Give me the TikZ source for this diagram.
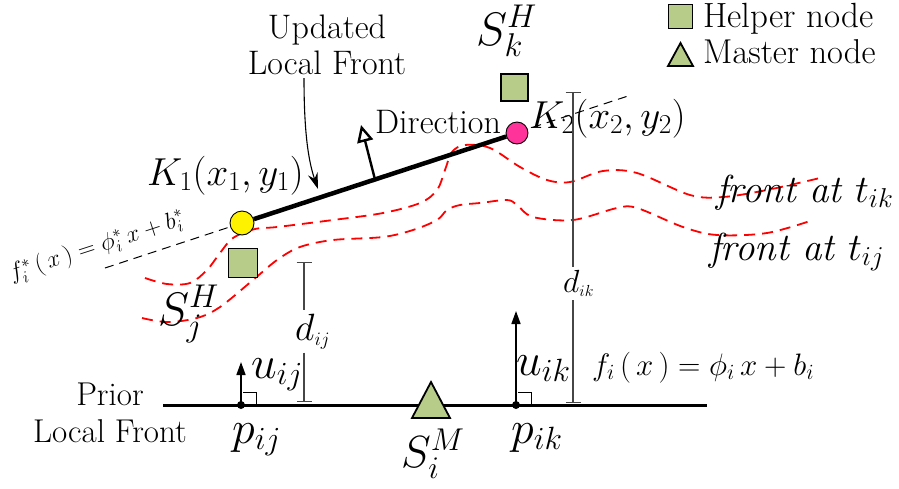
\RequirePackage{fix-cm}
\documentclass[tikz,border=0pt]{standalone}
\usepackage{fontspec}
\usetikzlibrary{arrows.meta,calc}
\definecolor{helpgreen}{RGB}{183,204,137}
\definecolor{kpink}{RGB}{255,51,153}
\definecolor{dgray}{RGB}{70,70,70}
\newcommand{\myfs}[1]{\fontsize{#1}{#1}\selectfont}
\begin{document}
\begin{tikzpicture}[x=1pt,y=-1pt,
  helper/.style={draw=black,line width=1.8pt,fill=helpgreen,minimum size=#1,inner sep=0pt},
  master/.style={draw=black,line width=1.8pt,fill=helpgreen,line join=miter},
  frontcurve/.style={red,line width=1.8pt,dash pattern=on 11pt off 7pt},
  lbl/.style={inner sep=0pt,anchor=base west},
  dimline/.style={dgray,line width=1.2pt},
  uarrow/.style={line width=1.6pt,-{Triangle[length=13pt,width=9pt]}},
  rangle/.style={line width=0.9pt},
  kpoint/.style={circle,draw=black,line width=0.9pt,inner sep=0pt,minimum size=#1},
]
\useasboundingbox (0,0) rectangle (899,488);

% legend
\node[helper=24pt] (lhelp) at (680.5,16.5) {};
\node[lbl] (lhelpt) at (703,27) {\myfs{35}Helper node};
\filldraw[master] (680.5,43) -- (693,66) -- (668,66) -- cycle;
\coordinate (lmast) at (680.5,55);
\node[lbl] (lmastt) at (703,63) {\myfs{34.5}Master node};

% fronts
\draw[frontcurve] plot[smooth,tension=0.55] coordinates {(145,278) (167,284) (190,283) (207,270) (220,253) (233,238) (255,229) (277,227) (333,220) (383,213) (420,203) (437,190) (445,170) (452,152) (465,145) (490,148) (520,167) (547,180) (570,182) (603,171) (637,173) (690,195) (723,197) (767,190) (820,178)};
\draw[frontcurve] plot[smooth,tension=0.55] coordinates {(142,318) (167,322) (197,318) (220,307) (253,280) (277,260) (300,247) (333,240) (383,237) (413,230) (437,220) (447,210) (460,205) (480,203) (507,200) (517,205) (533,217) (573,220) (617,208) (637,208) (683,227) (717,235) (767,233) (813,220)};
\node[lbl] (ftik) at (716,202) {\myfs{39}\itshape front at $t_{ik}$};
\node[lbl] (ftij) at (709,260) {\myfs{39}\itshape front at $t_{ij}$};

% updated local front line
\coordinate (fsL) at (105,268);
\coordinate (fsR) at (628,96);
\draw[line width=1pt,dash pattern=on 9pt off 6pt] (fsL) -- (fsR);
\node[kpoint=24pt,fill=yellow] (K1) at (242,223) {};
\node[kpoint=22pt,fill=kpink] (K2) at (517,133) {};
\draw[line width=4.5pt] (K1) -- (K2);
\node[rotate=18,inner sep=0pt] (fstar) at (97,247) {\myfs{24}$f_i^{*}\,(\,x\,)=\phi_i^{*}\,x+b_i^{*}$};

% direction
\coordinate (dirbase) at (375,179.5);
\coordinate (dirtip) at (361,125);
\draw[line width=2.4pt,-{Triangle[open,length=17pt,width=16pt]}] (dirbase) -- (dirtip);
\node[lbl] (dirt) at (375,133) {\myfs{34}Direction};

% labels of K
\node[lbl] (K1t) at (147,185) {\myfs{39}$K_1(x_1,y_1)$};
\node[lbl] (K2t) at (529,128) {\myfs{39}$K_2(x_2,y_2)$};

% Updated local front
\node[align=center,inner sep=0pt,font=\fontsize{34}{36}\selectfont] (ulf) at (327,44.5) {Updated\\Local Front};
\coordinate (ulfstart) at (304,78);
\coordinate (ulftip) at (318,189);
\draw[line width=1.1pt,-{Stealth[length=16pt,width=10pt]}] (ulfstart) .. controls (304,130) and (308,160) .. (ulftip);

% helper nodes
\node[helper=27pt] (Sk) at (514.5,87.5) {};
\node[lbl] (Skt) at (476,45) {\myfs{47}$S_k^H$};
\node[helper=29pt] (Sj) at (243,263) {};
\node[lbl] (Sjt) at (158,325) {\myfs{47}$S_j^H$};

% prior local front
\coordinate (plfL) at (163,405);
\coordinate (plfR) at (707,405);
\draw[line width=3pt] (plfL) -- (plfR);
\node[align=center,inner sep=0pt,font=\fontsize{33}{37}\selectfont] (plf) at (110,413) {Prior\\Local Front};

% master node
\filldraw[master] (431,382) -- (450,418) -- (412,418) -- cycle;
\node[lbl] (Sit) at (401,467) {\myfs{45}$S_i^M$};

% p points
\node[circle,fill=black,inner sep=0pt,minimum size=8pt] (pij) at (241,405) {};
\node[circle,fill=black,inner sep=0pt,minimum size=8pt] (pik) at (516,405) {};
\coordinate (uijtip) at (241,362);
\coordinate (uiktip) at (516,311);
\draw[uarrow] (pij.center) -- (uijtip);
\draw[uarrow] (pik.center) -- (uiktip);
\draw[rangle] (pij.center) ++(2,-13) -- ++(13,0) -- ++(0,13);
\draw[rangle] (pik.center) ++(2,-13) -- ++(13,0) -- ++(0,13);
\node[lbl] (uijt) at (251,378) {\myfs{46}$u_{\scriptstyle ij}$};
\node[lbl] (uikt) at (516,375) {\myfs{46}$u_{\scriptstyle ik}$};
\node[lbl] (pijt) at (232,443) {\myfs{46}$p_{ij}$};
\node[lbl] (pikt) at (511,443) {\myfs{46}$p_{ik}$};

% d_ij
\coordinate (dijtop) at (304,262);
\coordinate (dijbot) at (304,402);
\node[lbl,inner sep=3pt] (dij) at (292,340) {\myfs{38}$d_{\scriptscriptstyle ij}$};
\draw[dimline,{Bar[width=15pt]}-] (dijtop) -- (dijtop |- dij.north);
\draw[dimline,-{Bar[width=15pt]}] (dijtop |- dij.south) -- (dijbot);

% d_ik
\coordinate (diktop) at (573,92);
\coordinate (dikbot) at (573,403);
\node[lbl,inner sep=3pt] (dik) at (560,292) {\myfs{32}$d_{\scriptscriptstyle ik}$};
\draw[dimline,{Bar[width=15pt]}-] (diktop) -- (diktop |- dik.north);
\draw[dimline,-{Bar[width=15pt]}] (diktop |- dik.south) -- (dikbot);

% f_i equation
\node[lbl] (feq) at (592,375) {\myfs{31}$f_i\,(\,x\,)=\phi_i\,x+b_i$};
\end{tikzpicture}
\end{document}
